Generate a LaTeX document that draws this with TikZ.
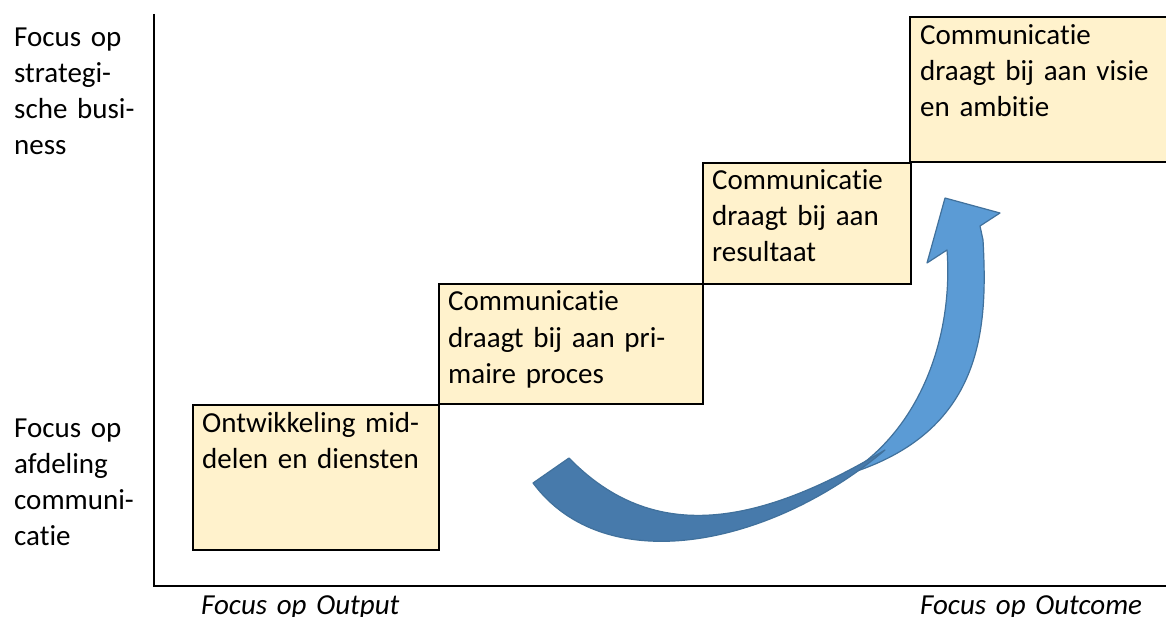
\documentclass[tikz,border=0pt]{standalone}
\usepackage{fontspec}
\setmainfont{Carlito}[Ligatures=NoCommon]
\definecolor{boxfill}{HTML}{FFF2CC}
\definecolor{arrowlight}{HTML}{5B9BD5}
\definecolor{arrowdark}{HTML}{477AAB}
\definecolor{arrowedge}{HTML}{41719C}
\begin{document}
\begin{tikzpicture}[x=1pt,y=-1pt,
  stepbox/.style={fill=boxfill, draw=black, line width=1.8pt, anchor=north west, inner sep=0pt},
  openbox/.style={fill=boxfill, anchor=north west, inner sep=0pt},
  txt/.style={anchor=base west, inner sep=0pt, text width=320pt, align=left, font=\fontsize{29}{36}\selectfont},
  axis/.style={line width=2pt, draw=black},
  curvedark/.style={fill=arrowdark, draw=arrowedge, line width=1.2pt, line join=round},
  curvelight/.style={fill=arrowlight, draw=arrowedge, line width=1.2pt, line join=round}]
\useasboundingbox (0,0) rectangle (1166,617);

% axes
\coordinate (ytop) at (154,14);
\coordinate (orig) at (154,586);
\coordinate (xend) at (1166,586);
\draw[axis] (ytop) -- (orig) -- (xend);

% boxes
\node[stepbox, minimum width=246pt, minimum height=145pt] (b1) at (192,404) {};
\node[stepbox, minimum width=264pt, minimum height=120pt] (b2) at (438,283) {};
\node[stepbox, minimum width=208pt, minimum height=121pt] (b3) at (702,162) {};
\node[openbox, minimum width=256pt, minimum height=145pt] (b4) at (910,17) {};
\draw[line width=1.8pt] (b4.north east) -- (b4.north west) -- (b4.south west) -- (b4.south east);

% box texts
\node[txt] (t1) at (202,432) {Ontwikkeling mid-\\delen en diensten};
\node[txt] (t2) at (448,311) {Communicatie\\draagt bij aan pri-\\maire proces};
\node[txt] (t3) at (712,190) {Communicatie\\draagt bij aan\\resultaat};
\node[txt] (t4) at (920,45) {Communicatie\\draagt bij aan visie\\en ambitie};

% axis labels
\node[txt] (l1) at (14,47) {Focus op\\strategi-\\sche busi-\\ness};
\node[txt] (l2) at (14,437) {Focus op\\afdeling\\communi-\\catie};
\node[txt, font=\fontsize{29}{36}\selectfont\itshape] (o1) at (201,614) {Focus op Output};
\node[txt, font=\fontsize{29}{36}\selectfont\itshape] (o2) at (920,614) {Focus op Outcome};

% curved arrow: upper (front) part
\fill[curvelight] (848,474) .. controls (983,432) and (988,330) .. (983,240)
  -- (980,226) -- (1000,213) -- (945,198) -- (927,263) -- (947,250)
  .. controls (953,330) and (925,425) .. (848,474) -- cycle;
% lower (back) part
\filldraw[curvedark] (533,483) .. controls (605,580) and (770,547) .. (885,450)
  .. controls (759,525) and (654,545.5) .. (569,458) -- cycle;
\end{tikzpicture}
\end{document}
